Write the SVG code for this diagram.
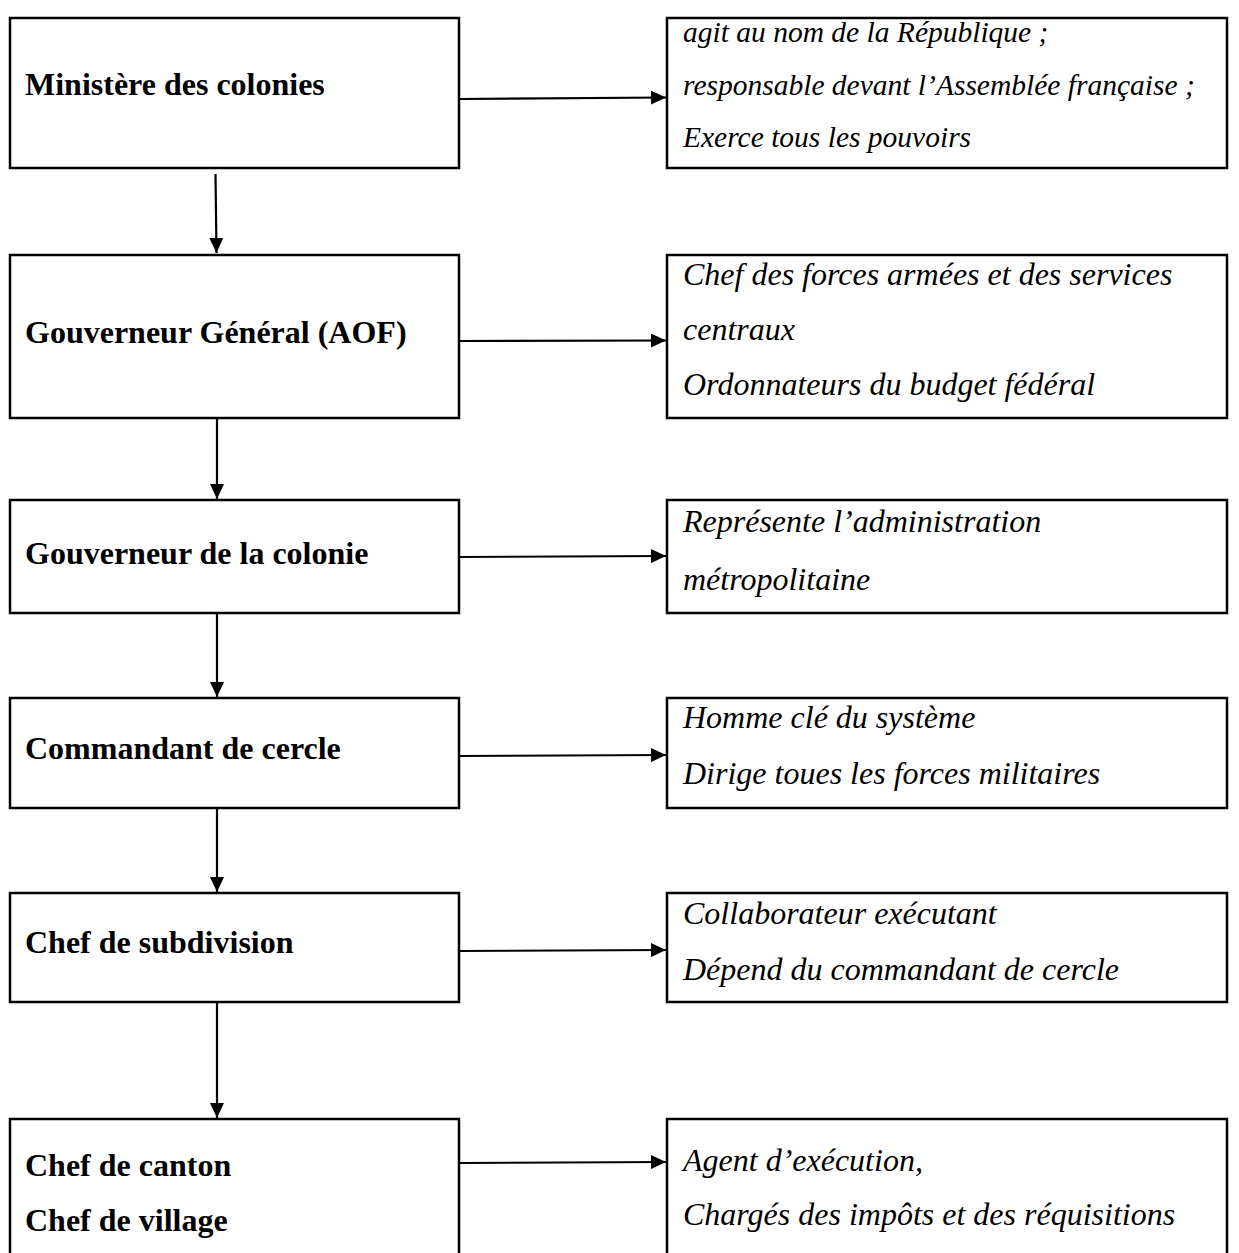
<svg xmlns="http://www.w3.org/2000/svg" width="1239" height="1253" viewBox="0 0 1239 1253">
<defs>
<style>
.box{fill:#fff;stroke:#000;stroke-width:2.5}
.t{font-family:"Liberation Serif","Times New Roman",serif;font-size:32px;font-weight:bold;fill:#000}
.d{font-family:"Liberation Serif","Times New Roman",serif;font-size:32px;font-style:italic;fill:#000}
.s{font-size:29.5px}
.c{stroke:#000;stroke-width:2.2;fill:none}
</style>
<marker id="ah" viewBox="0 0 15 14" refX="15" refY="7" markerWidth="15" markerHeight="14" markerUnits="userSpaceOnUse" orient="auto">
<path d="M0,0 L15,7 L0,14 Z" fill="#000"/>
</marker>
</defs>
<rect width="1239" height="1253" fill="#fff"/>
<g id="n1"><rect class="box" x="10" y="18" width="449" height="150"/><text class="t" x="25" y="95">Ministère des colonies</text></g>
<g id="d1"><rect class="box" x="667" y="18" width="560" height="150"/>
<text class="d s" x="683" y="42">agit au nom de la République ;</text>
<text class="d s" x="683" y="95">responsable devant l’Assemblée française ;</text>
<text class="d s" x="683" y="147">Exerce tous les pouvoirs</text></g>
<g id="n2"><rect class="box" x="10" y="255" width="449" height="163"/><text class="t" x="25" y="343">Gouverneur Général (AOF)</text></g>
<g id="d2"><rect class="box" x="667" y="255" width="560" height="163"/>
<text class="d" x="683" y="285">Chef des forces armées et des services</text>
<text class="d" x="683" y="340">centraux</text>
<text class="d" x="683" y="395">Ordonnateurs du budget fédéral</text></g>
<g id="n3"><rect class="box" x="10" y="500" width="449" height="113"/><text class="t" x="25" y="564">Gouverneur de la colonie</text></g>
<g id="d3"><rect class="box" x="667" y="500" width="560" height="113"/>
<text class="d" x="683" y="532">Représente l’administration</text>
<text class="d" x="683" y="590">métropolitaine</text></g>
<g id="n4"><rect class="box" x="10" y="698" width="449" height="110"/><text class="t" x="25" y="759">Commandant de cercle</text></g>
<g id="d4"><rect class="box" x="667" y="698" width="560" height="110"/>
<text class="d" x="683" y="728">Homme clé du système</text>
<text class="d" x="683" y="784">Dirige toues les forces militaires</text></g>
<g id="n5"><rect class="box" x="10" y="893" width="449" height="109"/><text class="t" x="25" y="953">Chef de subdivision</text></g>
<g id="d5"><rect class="box" x="667" y="893" width="560" height="109"/>
<text class="d" x="683" y="924">Collaborateur exécutant</text>
<text class="d" x="683" y="980">Dépend du commandant de cercle</text></g>
<g id="n6"><rect class="box" x="10" y="1119" width="449" height="150"/><text class="t" x="25" y="1176">Chef de canton</text><text class="t" x="25" y="1231">Chef de village</text></g>
<g id="d6"><rect class="box" x="667" y="1119" width="560" height="150"/>
<text class="d" x="683" y="1171">Agent d’exécution,</text>
<text class="d" x="683" y="1225">Chargés des impôts et des réquisitions</text></g>
<g id="connectors">
<line class="c" x1="459" y1="99" x2="666" y2="97.5" marker-end="url(#ah)"/>
<line class="c" x1="459" y1="341" x2="666" y2="340.5" marker-end="url(#ah)"/>
<line class="c" x1="459" y1="557" x2="666" y2="556" marker-end="url(#ah)"/>
<line class="c" x1="459" y1="756" x2="666" y2="755" marker-end="url(#ah)"/>
<line class="c" x1="459" y1="951" x2="666" y2="950" marker-end="url(#ah)"/>
<line class="c" x1="459" y1="1163" x2="666" y2="1162" marker-end="url(#ah)"/>
<line class="c" x1="215.5" y1="174" x2="216.5" y2="253" marker-end="url(#ah)"/>
<line class="c" x1="217" y1="419" x2="217" y2="499" marker-end="url(#ah)"/>
<line class="c" x1="217" y1="614" x2="217" y2="697" marker-end="url(#ah)"/>
<line class="c" x1="217" y1="809" x2="217" y2="892" marker-end="url(#ah)"/>
<line class="c" x1="217" y1="1003" x2="217" y2="1118" marker-end="url(#ah)"/>
</g>
</svg>
